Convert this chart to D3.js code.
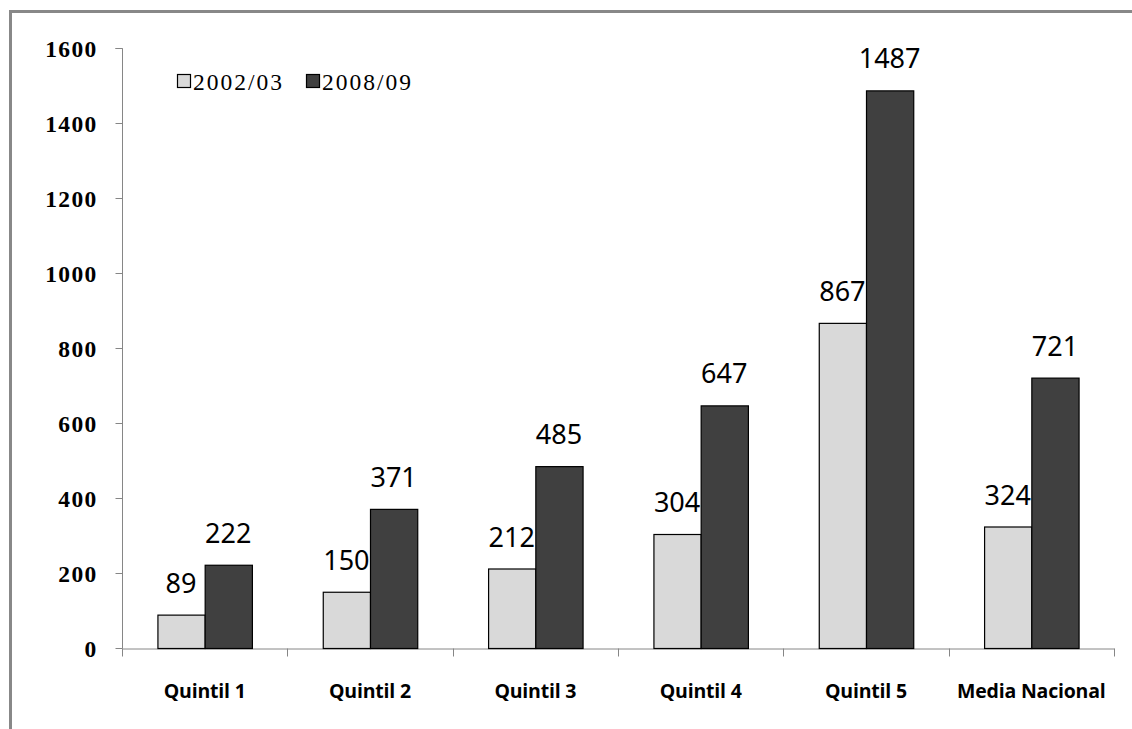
<!DOCTYPE html>
<html><head><meta charset="utf-8">
<script src="https://cdn.jsdelivr.net/npm/d3@7"></script>
<style>html,body{margin:0;padding:0;background:#fff;}svg{display:block;}</style>
</head><body>
<svg id="c" width="1132" height="729"></svg>
<script>
const categories = ["Quintil 1","Quintil 2","Quintil 3","Quintil 4","Quintil 5","Media Nacional"];
const seriesNames = ["2002/03","2008/09"];
const values2002 = [89,150,212,304,867,324];
const values2008 = [222,371,485,647,1487,721];
const yTicks = [0,200,400,600,800,1000,1200,1400,1600];
const colors = ["#d9d9d9","#404040"];

const svg = d3.select("#c");
// frame
svg.append("rect").attr("x",10.5).attr("y",11.5).attr("width",1200).attr("height",800)
  .attr("fill","none").attr("stroke","#888").attr("stroke-width",3);

const x0 = d3.scaleBand().domain(categories).range([122,1114]).paddingInner(0).paddingOuter(0);
const x1 = d3.scaleBand().domain(seriesNames).range([0,x0.bandwidth()]).paddingInner(0).paddingOuter(0.75);
const y = d3.scaleLinear().domain([0,1600]).range([648,48]);

// axes
const yAxis = d3.axisLeft(y).tickValues(yTicks).tickFormat(d3.format("d")).tickSize(7).tickPadding(18);
const gy = svg.append("g").attr("transform","translate(122.5,0)").call(yAxis);
gy.select(".domain").attr("stroke","#868686").attr("d","M-7,48.5H0V648.5");
gy.selectAll(".tick line").attr("stroke","#868686");
gy.selectAll(".tick text").attr("font-family","'Liberation Serif',serif").attr("font-weight","bold")
  .attr("font-size",23.5).attr("letter-spacing","1.3").attr("fill","#000").attr("dy","0.35em");

const xAxis = d3.axisBottom(x0).tickValues([]).tickSizeOuter(0);
const gx = svg.append("g").attr("transform","translate(0,648.5)").call(xAxis);
gx.select(".domain").attr("stroke","#868686");
const bounds = categories.map(c=>x0(c)).concat([x0.range()[1]]);
gx.selectAll(".bt").data(bounds).enter().append("line").attr("class","bt")
  .attr("x1",d=>Math.round(d)+0.5).attr("x2",d=>Math.round(d)+0.5).attr("y1",0).attr("y2",8).attr("stroke","#868686");
gx.selectAll(".xl").data(categories).enter().append("text").attr("class","xl")
  .attr("x",d=>x0(d)+x0.bandwidth()/2).attr("y",49).attr("text-anchor","middle")
  .attr("font-family","'Open Sans',sans-serif").attr("font-weight","bold").attr("font-size",19.5)
  .attr("fill","#000").attr("letter-spacing","-0.2").text(d=>d);

// bars
const data = categories.map((c,i)=>({cat:c, vals:[values2002[i],values2008[i]]}));
const g = svg.selectAll(".grp").data(data).enter().append("g").attr("transform",d=>`translate(${x0(d.cat)},0)`);
g.selectAll("rect").data(d=>d.vals.map((v,j)=>({s:seriesNames[j],v,j}))).enter().append("rect")
  .attr("x",d=>x1(d.s)+0.5).attr("width",x1.bandwidth())
  .attr("y",d=>y(d.v)+0.5).attr("height",d=>y(0)-y(d.v))
  .attr("fill",d=>colors[d.j]).attr("stroke","#000").attr("stroke-width",1.2);
g.selectAll("text").data(d=>d.vals.map((v,j)=>({s:seriesNames[j],v,j}))).enter().append("text")
  .attr("x",d=>x1(d.s)+x1.bandwidth()/2).attr("y",d=>y(d.v)-22)
  .attr("text-anchor","middle").attr("font-family","'Noto Sans',sans-serif").attr("font-size",27)
  .attr("fill","#000").text(d=>d.v);

// legend
const leg = svg.append("g");
const legX = [177,306];
seriesNames.forEach((s,i)=>{
  leg.append("rect").attr("x",legX[i]+0.5).attr("y",74.5).attr("width",13).attr("height",13)
    .attr("fill",colors[i]).attr("stroke","#000").attr("stroke-width",1.2);
  leg.append("text").attr("x",legX[i]+16).attr("y",90).attr("font-family","'Liberation Serif',serif")
    .attr("font-size",23.5).attr("letter-spacing","2").attr("fill","#000").text(s);
});
</script>
</body></html>
